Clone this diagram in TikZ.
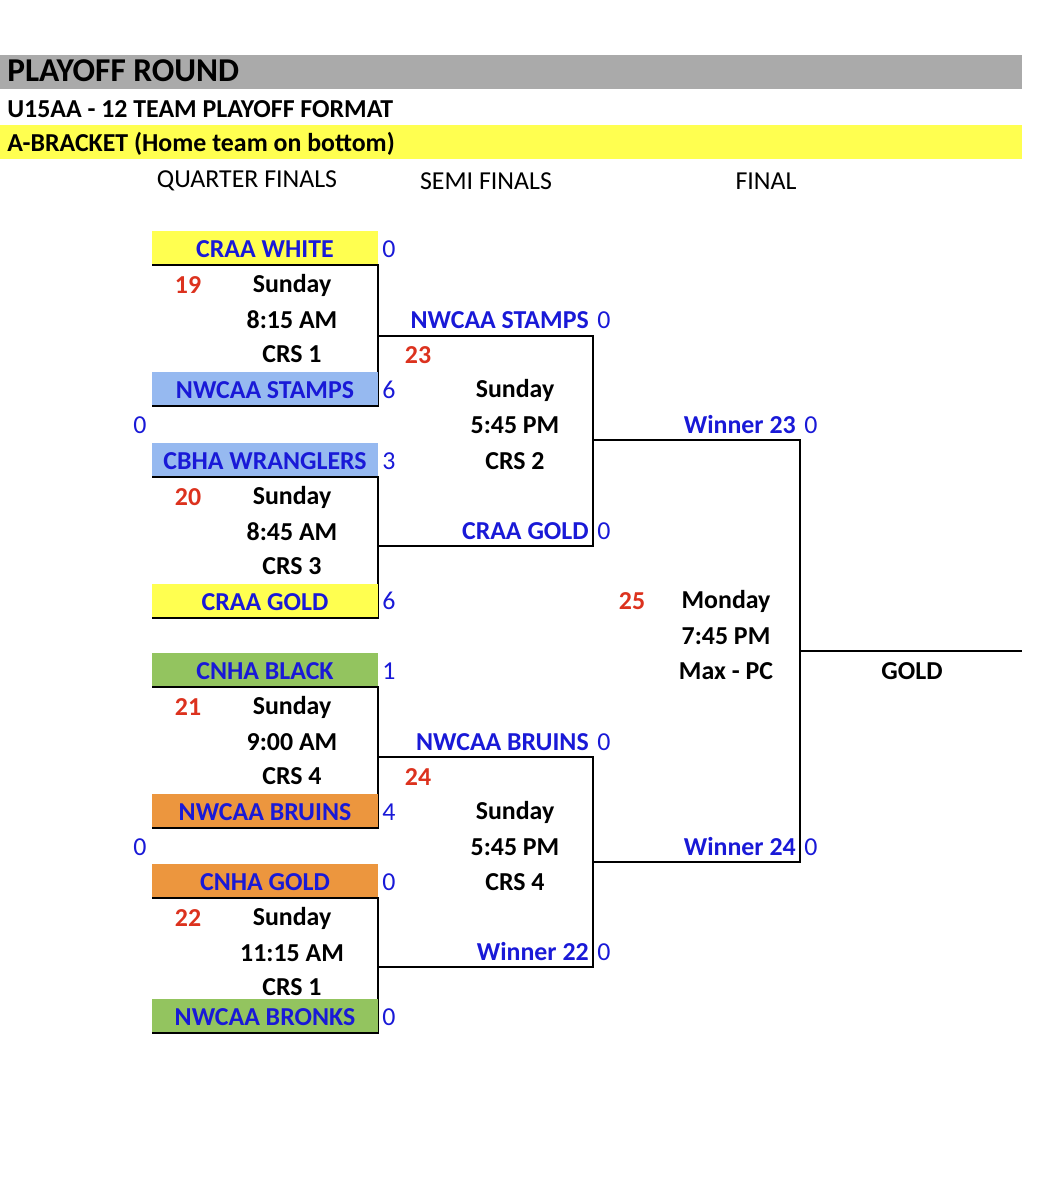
\documentclass[tikz,border=0pt]{standalone}
\usepackage{fontspec}
\setmainfont{Carlito}
\definecolor{gbar}{RGB}{170,170,170}
\definecolor{yfill}{RGB}{255,255,80}
\definecolor{lblue}{RGB}{150,185,240}
\definecolor{lgreen}{RGB}{147,196,95}
\definecolor{lorange}{RGB}{236,150,62}
\definecolor{tblue}{RGB}{25,25,215}
\definecolor{tred}{RGB}{220,50,30}
\begin{document}
\begin{tikzpicture}[x=0.75pt,y=-0.75pt,
 every node/.style={inner sep=0pt,font=\fontsize{19.4}{21}\selectfont},
 b/.style={font=\fontsize{19.4}{21}\selectfont\bfseries},
 team/.style={b,text=tblue},
 num/.style={b,text=tred},
 sc/.style={text=tblue,anchor=west},
 ln/.style={line width=1.3pt}]
\useasboundingbox (0,0) rectangle (1060,1200);
\fill[gbar] (0,55) rectangle (1022,89);
\node[anchor=west,font=\fontsize{25}{27}\selectfont\bfseries] (t1) at (7,71) {PLAYOFF ROUND};
\node[anchor=west,b] (t2) at (7,109) {U15AA - 12 TEAM PLAYOFF FORMAT};
\fill[yfill] (0,125) rectangle (1022,159);
\node[anchor=west,b] (t3) at (7,144) {A-BRACKET (Home team on bottom)};
\node (h1) at (247,181) {QUARTER FINALS};
\node (h2) at (486,181) {SEMI FINALS};
\node (h3) at (766,181) {FINAL};
\newcommand{\qf}[9]{%
 \fill[#2] (152,#1-17) rectangle (378,#1+17);
 \draw[ln] (152,#1+17) -- (378,#1+17) -- (378,#1+\bo+17) -- (152,#1+\bo+17);
 \fill[#5] (152,#1+\bo-17) rectangle (378,#1+\bo+16);
 \draw[ln] (152,#1+\bo+17) -- (378,#1+\bo+17);
 \node[team] at (265,#1+1) {#3};
 \node[sc] at (382,#1+1) {#6};
 \node[num] at (188,#1+37) {#7};
 \node[b] at (292,#1+37) {Sunday};
 \node[b] at (292,#1+72) {#8};
 \node[b] at (292,#1+106) {#9};
 \node[team] at (265,#1+\bo+1) {#4};
}
\def\bo{141}
\qf{248}{yfill}{CRAA WHITE}{NWCAA STAMPS}{lblue}{0}{19}{8:15 AM}{CRS 1}
\node[sc] at (382,390) {6};
\qf{460}{lblue}{CBHA WRANGLERS}{CRAA GOLD}{yfill}{3}{20}{8:45 AM}{CRS 3}
\node[sc] at (382,601) {6};
\qf{670}{lgreen}{CNHA BLACK}{NWCAA BRUINS}{lorange}{1}{21}{9:00 AM}{CRS 4}
\node[sc] at (382,812) {4};
\def\bo{135}
\qf{881}{lorange}{CNHA GOLD}{NWCAA BRONKS}{lgreen}{0}{22}{11:15 AM}{CRS 1}
\node[sc] at (382,1017) {0};
\node[text=tblue] at (140,425) {0};
\node[text=tblue] at (140,847) {0};
\draw[ln] (378,336) -- (593,336) -- (593,546) -- (378,546);
\draw[ln] (378,757) -- (593,757) -- (593,967) -- (378,967);
\draw[ln] (593,440) -- (800,440) -- (800,862) -- (593,862);
\draw[ln] (800,651) -- (1022,651);
\node[team,anchor=east] at (589,320) {NWCAA STAMPS};
\node[sc] at (597,320) {0};
\node[num] at (418,355) {23};
\node[b] at (515,390) {Sunday};
\node[b] at (515,425) {5:45 PM};
\node[b] at (515,461) {CRS 2};
\node[team,anchor=east] at (589,531) {CRAA GOLD};
\node[sc] at (597,531) {0};
\node[team,anchor=east] at (589,742) {NWCAA BRUINS};
\node[sc] at (597,742) {0};
\node[num] at (418,777) {24};
\node[b] at (515,812) {Sunday};
\node[b] at (515,847) {5:45 PM};
\node[b] at (515,882) {CRS 4};
\node[team,anchor=east] at (589,952) {Winner 22};
\node[sc] at (597,952) {0};
\node[team,anchor=east] at (796,425) {Winner 23};
\node[sc] at (804,425) {0};
\node[team,anchor=east] at (796,847) {Winner 24};
\node[sc] at (804,847) {0};
\node[num] at (632,601) {25};
\node[b] at (726,601) {Monday};
\node[b] at (726,636) {7:45 PM};
\node[b] at (726,671) {Max - PC};
\node[b] at (912,671) {GOLD};
\end{tikzpicture}
\end{document}
